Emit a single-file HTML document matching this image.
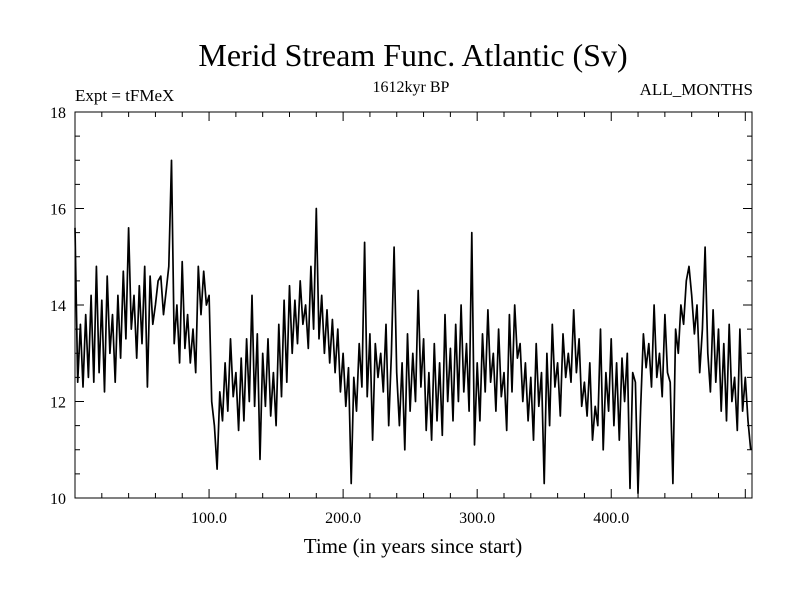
<!DOCTYPE html>
<html><head><meta charset="utf-8"><style>
body{margin:0;background:#fff}
svg text{font-family:"Liberation Serif",serif;fill:#000}
</style></head><body>
<svg id="chart" width="800" height="600" xmlns="http://www.w3.org/2000/svg">
<text x="413" y="66" font-size="32" text-anchor="middle">Merid Stream Func. Atlantic (Sv)</text>
<text x="75" y="101" font-size="17">Expt = tFMeX</text>
<text x="411" y="92" font-size="16" text-anchor="middle">1612kyr BP</text>
<text x="753" y="95" font-size="17" text-anchor="end">ALL_MONTHS</text>
<text x="413" y="553" font-size="21" text-anchor="middle">Time (in years since start)</text>
<g id="axes"></g>
<g id="series"></g>
<rect x="75" y="112" width="677" height="386" fill="none" stroke="#000" stroke-width="1"/>
</svg>
<script>
const startYear = 0;
const stepYears = 2;
const values = [
15.6,12.4,13.6,12.3,13.8,12.5,14.2,12.4,14.8,12.6,
14.1,12.2,14.6,13.0,13.8,12.4,14.2,12.9,14.7,13.3,
15.6,13.5,14.2,12.9,14.4,13.2,14.8,12.3,14.6,13.6,
14.0,14.5,14.6,13.8,14.3,14.8,17.0,13.2,14.0,12.8,
14.9,13.1,13.8,12.8,13.5,12.6,14.8,13.8,14.7,14.0,
14.2,12.0,11.5,10.6,12.2,11.6,12.8,11.8,13.3,12.1,
12.6,11.4,12.9,11.6,13.3,12.0,14.2,11.9,13.4,10.8,
13.0,11.9,13.3,11.7,12.6,11.5,13.6,12.1,14.1,12.4,
14.4,13.0,14.1,13.2,14.5,13.6,14.0,13.1,14.8,13.5,
16.0,13.3,14.2,13.0,13.9,12.8,13.7,12.6,13.5,12.2,
13.0,11.9,12.7,10.3,12.5,11.8,13.2,12.3,15.3,12.1,
13.4,11.2,13.2,12.5,13.0,12.2,13.6,11.5,13.0,15.2,
12.6,11.5,12.8,11.0,13.4,11.8,13.0,12.0,14.3,12.3,
13.3,11.4,12.6,11.2,13.2,11.6,12.8,11.3,13.8,12.0,
13.1,11.6,13.6,12.0,14.0,12.2,13.2,11.8,15.5,11.1,
12.8,11.6,13.4,12.2,13.9,12.4,13.0,11.8,13.5,12.1,
12.6,11.4,13.8,12.2,14.0,12.9,13.2,12.0,12.8,11.6,
12.5,11.2,13.2,11.9,12.6,10.3,13.0,11.5,13.6,12.3,
12.8,11.7,13.4,12.5,13.0,12.4,13.9,12.6,13.3,11.9,
12.4,11.7,12.8,11.2,11.9,11.5,13.5,11.0,12.6,11.8,
13.3,11.5,12.8,11.2,12.9,12.0,13.0,10.2,12.6,12.4,
10.1,11.9,13.4,12.7,13.2,12.3,14.0,12.5,13.0,12.1,
13.8,12.6,12.4,10.3,13.5,13.0,14.0,13.6,14.5,14.8,
14.2,13.4,14.0,12.6,13.5,15.2,13.0,12.2,13.9,12.4,
13.5,11.8,13.2,11.6,13.6,12.0,12.5,11.4,13.5,11.8,
12.5,11.6,11.0
];
const xTickValues = [100, 200, 300, 400];
const xTickLabels = ["100.0", "200.0", "300.0", "400.0"];
const yTickValues = [10, 12, 14, 16, 18];
const yTickLabels = ["10", "12", "14", "16", "18"];

const X0 = 75, X1 = 752, Y0 = 498, Y1 = 112;
const xMin = 0, xMax = 505, yMin = 10, yMax = 18;
const xs = v => X0 + (v - xMin) / (xMax - xMin) * (X1 - X0);
const ys = v => Y0 - (v - yMin) / (yMax - yMin) * (Y0 - Y1);
const NS = "http://www.w3.org/2000/svg";
const axes = document.getElementById("axes");
function line(x1,y1,x2,y2){const l=document.createElementNS(NS,"line");l.setAttribute("x1",x1);l.setAttribute("y1",y1);l.setAttribute("x2",x2);l.setAttribute("y2",y2);l.setAttribute("stroke","#000");l.setAttribute("stroke-width","1");axes.appendChild(l);return l;}
for(let v=20; v<xMax; v+=20){
  const x=xs(v), major = v%100===0, len = major?9:5;
  const t1=line(x,Y0,x,Y0-len);
  
  
  const t2=line(x,Y1,x,Y1+len);
  
  
}
for(let v=yMin+0.5; v<yMax; v+=0.5){
  const y=ys(v), major = Math.abs(v%2)<1e-9, len = major?9:5;
  const t1=line(X0,y,X0+len,y);
  
  
  const t2=line(X1,y,X1-len,y);
  
  
}
xTickValues.forEach((v,i)=>{
  const t=document.createElementNS(NS,"text");
  t.setAttribute("x",xs(v));t.setAttribute("y",523);t.setAttribute("font-size","16");t.setAttribute("text-anchor","middle");
  t.textContent=xTickLabels[i];
  
  
  axes.appendChild(t);
});
yTickValues.forEach((v,i)=>{
  const t=document.createElementNS(NS,"text");
  t.setAttribute("x",66);t.setAttribute("y",ys(v)+6);t.setAttribute("font-size","16");t.setAttribute("text-anchor","end");
  t.textContent=yTickLabels[i];
  
  
  axes.appendChild(t);
});
const pts = values.map((v,i)=>xs(startYear+i*stepYears).toFixed(1)+","+ys(v).toFixed(1)).join(" ");
const pl=document.createElementNS(NS,"polyline");
pl.setAttribute("points",pts);pl.setAttribute("fill","none");pl.setAttribute("stroke","#000");pl.setAttribute("stroke-width","1.7");pl.setAttribute("stroke-linejoin","round");


document.getElementById("series").appendChild(pl);
</script>
</body></html>
